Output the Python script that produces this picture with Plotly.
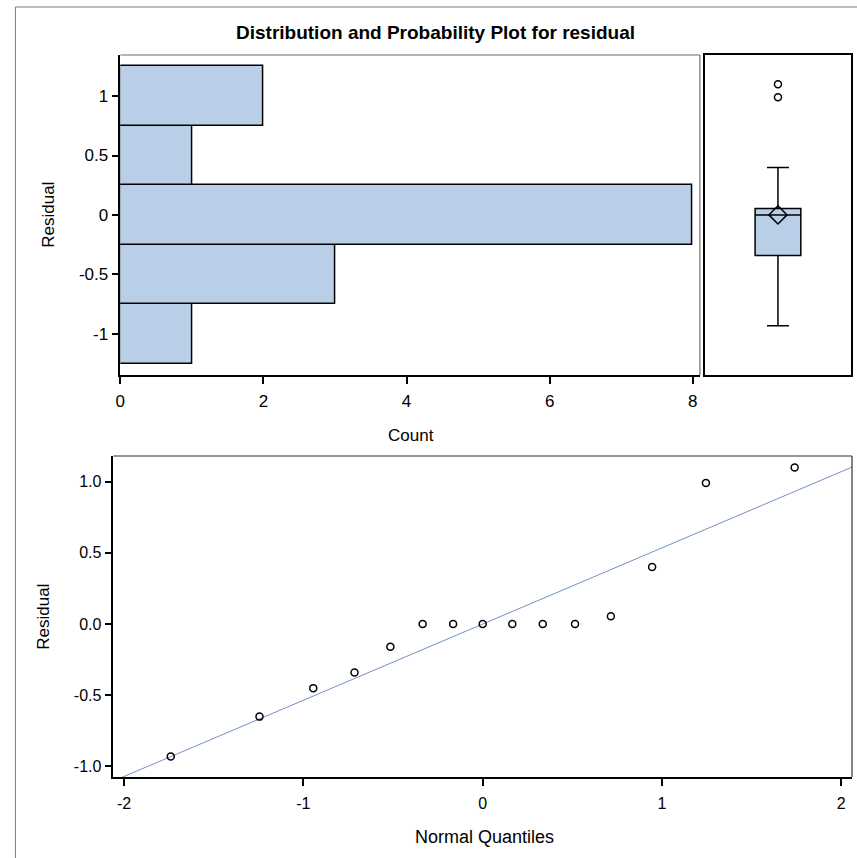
import numpy as np
import plotly.graph_objects as go

# Residuals (sorted) and their normal quantiles
residuals = [-0.93, -0.65, -0.45, -0.34, -0.16, 0.0, 0.0, 0.0, 0.0, 0.0, 0.0,
             0.055, 0.40, 0.99, 1.10]
normal_quantiles = [-1.74, -1.245, -0.945, -0.715, -0.515, -0.335, -0.165, 0.0,
                    0.165, 0.335, 0.515, 0.715, 0.945, 1.245, 1.74]

# Reference line: mean + sd * quantile
ref_mean = 0.0
ref_sd = 0.535

hist_xticks = [0, 2, 4, 6, 8]
hist_xticklabels = ["0", "2", "4", "6", "8"]
hist_yticks = [-1, -0.5, 0, 0.5, 1]
hist_yticklabels = ["-1", "-0.5", "0", "0.5", "1"]
qq_xticks = [-2, -1, 0, 1, 2]
qq_xticklabels = ["-2", "-1", "0", "1", "2"]
qq_yticks = [-1.0, -0.5, 0.0, 0.5, 1.0]
qq_yticklabels = ["-1.0", "-0.5", "0.0", "0.5", "1.0"]

W, H = 857, 858
FILL = "#B9CFE7"
FONT = "Liberation Sans, Arial, sans-serif"


def px_x(p):
    return p / W


def px_y(p):
    return 1 - p / H


fig = go.Figure()

# Horizontal histogram of residuals
fig.add_trace(go.Histogram(
    y=residuals,
    ybins=dict(start=-1.25, end=1.25, size=0.5),
    orientation="h",
    marker=dict(color=FILL, line=dict(color="black", width=1.5)),
    xaxis="x", yaxis="y", showlegend=False,
))

# Box plot of residuals
fig.add_trace(go.Box(
    y=residuals, x=[0] * len(residuals),
    quartilemethod="exclusive",
    boxpoints="outliers", pointpos=0, jitter=0,
    width=0.313, whiskerwidth=0.48,
    fillcolor=FILL, line=dict(color="black", width=1.5),
    marker=dict(symbol="circle-open", size=7, color="black",
                line=dict(width=1.5, color="black")),
    xaxis="x2", yaxis="y2", showlegend=False,
))
fig.add_trace(go.Scatter(
    x=[0], y=[float(np.mean(residuals))], mode="markers",
    marker=dict(symbol="diamond-open", size=14, color="black",
                line=dict(width=1.5, color="black")),
    xaxis="x2", yaxis="y2", showlegend=False,
))

# Normal probability plot
qq_range = [-2.06, 2.06]
line_x = np.array(qq_range) * 1.05
fig.add_trace(go.Scatter(
    x=line_x, y=ref_mean + ref_sd * line_x, mode="lines",
    line=dict(color="#7490C6", width=1),
    xaxis="x3", yaxis="y3", showlegend=False,
))
fig.add_trace(go.Scatter(
    x=normal_quantiles, y=residuals, mode="markers",
    marker=dict(symbol="circle-open", size=7, color="black",
                line=dict(width=1.5, color="black")),
    xaxis="x3", yaxis="y3", showlegend=False,
))

hist_tickfont = dict(family=FONT, size=17, color="black")
qq_tickfont = dict(family=FONT, size=16, color="black")
axis_common = dict(showgrid=False, zeroline=False, ticks="outside",
                   ticklen=7, tickwidth=1.5, tickcolor="black",
                   showline=True, linecolor="black", linewidth=1.5)

fig.update_layout(
    width=W, height=H,
    margin=dict(l=0, r=0, t=0, b=0),
    paper_bgcolor="white", plot_bgcolor="white",
    bargap=0,
    xaxis=dict(domain=[px_x(116), px_x(699)], range=[0, 8.1],
               tickvals=hist_xticks, ticktext=hist_xticklabels,
               anchor="y", ticklabelstandoff=3, tickfont=hist_tickfont,
               **axis_common),
    yaxis=dict(domain=[px_y(375), px_y(55)], range=[-1.345, 1.345],
               tickvals=hist_yticks, ticktext=hist_yticklabels, anchor="x",
               tickfont=hist_tickfont, **axis_common),
    xaxis2=dict(domain=[px_x(704), px_x(851)], range=[-0.5, 0.5],
                showticklabels=False, ticks="", showgrid=False, zeroline=False,
                showline=True, mirror=True, linecolor="black", linewidth=1.5,
                anchor="y2"),
    yaxis2=dict(domain=[px_y(375), px_y(55)], range=[-1.345, 1.345],
                showticklabels=False, ticks="", showgrid=False, zeroline=False,
                showline=True, mirror=True, linecolor="black", linewidth=1.5,
                anchor="x2"),
    xaxis3=dict(domain=[px_x(109), px_x(852)], range=qq_range,
                tickvals=qq_xticks, ticktext=qq_xticklabels, anchor="y3",
                ticklabelstandoff=4, tickfont=qq_tickfont, **axis_common),
    yaxis3=dict(domain=[px_y(777), px_y(456)], range=[-1.074, 1.18],
                tickvals=qq_yticks, ticktext=qq_yticklabels, anchor="x3",
                tickfont=qq_tickfont, **axis_common),
)

# Top/right borders of the histogram and probability panels
for xr, yr, col in [("x domain", "y domain", "#6E6E6E"),
                    ("x3 domain", "y3 domain", "#333333")]:
    fig.add_shape(type="line", xref=xr, yref=yr, x0=0, x1=1, y0=1, y1=1,
                  line=dict(color=col, width=1.2))
    fig.add_shape(type="line", xref=xr, yref=yr, x0=1, x1=1, y0=0, y1=1,
                  line=dict(color=col, width=1.2))

# Outer frame (left and top edges)
fig.add_shape(type="line", xref="paper", yref="paper",
              x0=px_x(10.5), x1=px_x(10.5), y0=0, y1=px_y(7),
              line=dict(color="#7F7F7F", width=1))
fig.add_shape(type="line", xref="paper", yref="paper",
              x0=px_x(10.5), x1=1, y0=px_y(7), y1=px_y(7),
              line=dict(color="#7F7F7F", width=1))

labfont = dict(family=FONT, size=17, color="black")
annotations = [
    dict(text="<b>Distribution and Probability Plot for residual</b>",
         x=px_x(433), y=px_y(33), font=dict(family=FONT, size=19, color="black")),
    dict(text="Count", x=px_x(408), y=px_y(435), font=labfont),
    dict(text="Residual", x=px_x(43), y=px_y(215), font=labfont, textangle=-90),
    dict(text="Residual", x=px_x(38), y=px_y(617), font=labfont, textangle=-90),
    dict(text="Normal Quantiles", x=px_x(482), y=px_y(837),
         font=dict(family=FONT, size=18, color="black")),
]
for a in annotations:
    fig.add_annotation(xref="paper", yref="paper", showarrow=False,
                       xanchor="center", yanchor="middle", **a)

fig.write_html("out.html")
